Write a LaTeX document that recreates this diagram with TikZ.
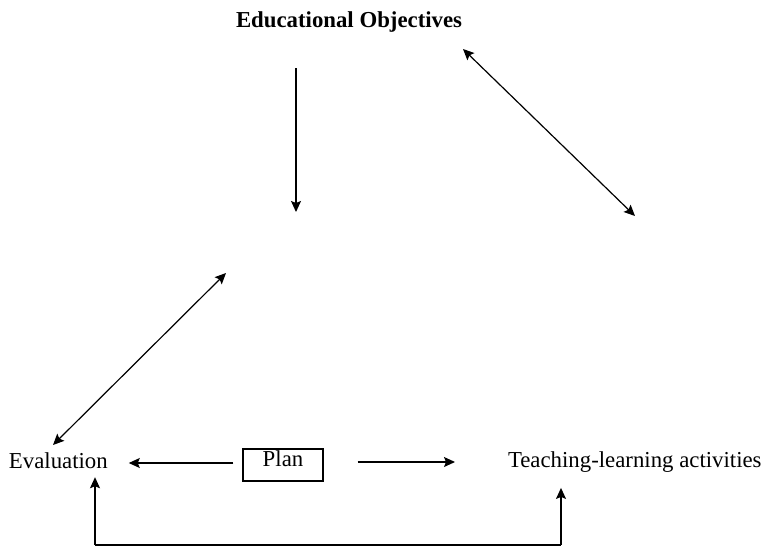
\documentclass[tikz,border=0pt]{standalone}
\usepackage{fontspec}
\setmainfont{Liberation Serif}
\usepackage{tikz}
\usetikzlibrary{arrows.meta,positioning}
\tikzstyle{arr}   =[line width=1.2pt, -{Stealth[length=11pt,width=10pt,inset=2pt]}]
\tikzstyle{darr}  =[line width=1.2pt, {Stealth[length=11pt,width=10pt,inset=2pt]}-{Stealth[length=11pt,width=10pt,inset=2pt]}]
\tikzstyle{lbl}   =[inner sep=0pt, outer sep=0pt, font=\fontsize{22.8}{27}\selectfont]
\tikzstyle{title} =[lbl, font=\fontsize{22.8}{27}\selectfont\bfseries]
\tikzstyle{planbox}=[draw, line width=1.2pt, minimum width=80pt, minimum height=32pt,
                    text height=15pt, text depth=12pt, inner sep=0pt,
                    font=\fontsize{22.8}{27}\selectfont]

\begin{document}
\begin{tikzpicture}[x=1pt,y=-1pt]
    \useasboundingbox (0,0) rectangle (769,546);

    % the three labels and the plan box
    \node[title, anchor=base west] (obj) at (236,27.5) {Educational Objectives};
    \node[lbl, anchor=base west] (eval) at (9,468) {Evaluation};
    \node[lbl, anchor=base west] (teach) at (508,467) {Teaching-learning activities};
    \node[planbox] (plan) at (283,465) {Plan};

    % loose ends of the arrows
    \coordinate (objfoot) at (296,68);
    \coordinate (centre)  at (296,212);
    \coordinate (objside) at (463,49);
    \coordinate (right)   at (635,216);
    \coordinate (left)    at (226,273);
    \coordinate (evaltop) at (53,445);
    \coordinate (evalfoot) at (95,545);
    \coordinate (teachfoot) at (561,545);

    \draw[arr]  (objfoot) -- (centre);
    \draw[darr] (objside) -- (right);
    \draw[darr] (left) -- (evaltop);

    % plan to both sides
    \draw[arr, shorten <=9pt, shorten >=21pt] ([yshift=2pt]plan.west) -- ([yshift=2pt]plan.west -| eval.east);
    \draw[arr, shorten <=34pt, shorten >=53pt] ([yshift=3pt]plan.east) -- ([yshift=3pt]plan.east -| teach.west);

    % feedback line along the bottom
    \draw[line width=2.5pt] (evalfoot) -- (teachfoot);
    \draw[arr, shorten >=9pt]  (evalfoot) -- (eval.south -| evalfoot);
    \draw[arr, shorten >=16pt] (teachfoot) -- (teach.south -| teachfoot);
\end{tikzpicture}
\end{document}
